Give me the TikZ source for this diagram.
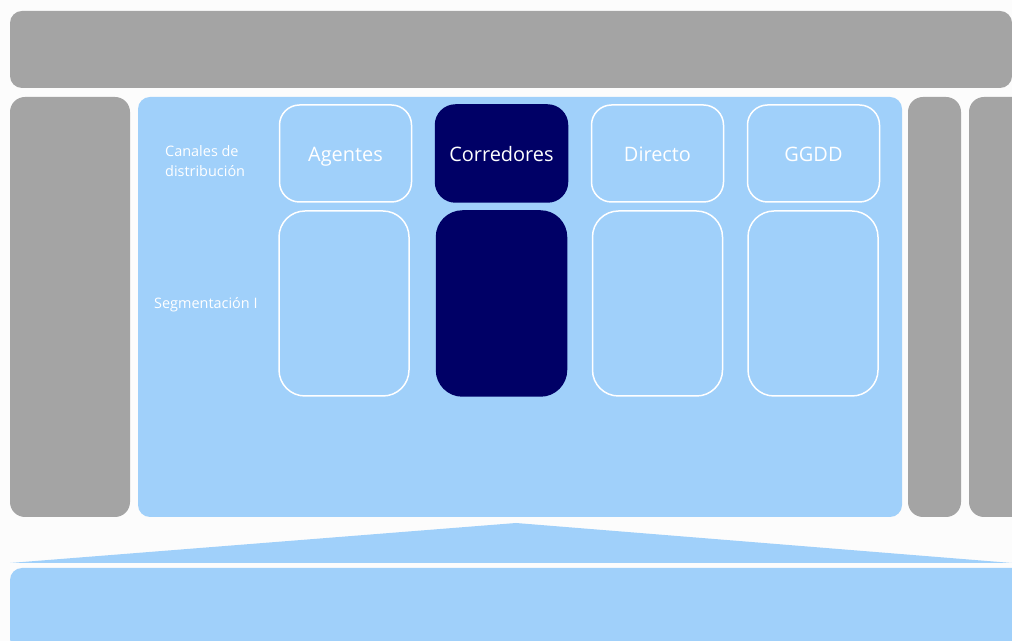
\documentclass[tikz,border=0pt]{standalone}
\usepackage{fontspec}
\setmainfont{Open Sans}
\definecolor{bargray}{HTML}{A4A4A4}
\definecolor{panelblue}{HTML}{A0D0FA}
\definecolor{navy}{HTML}{000066}
\definecolor{paper}{HTML}{FCFCFC}
\begin{document}
\begin{tikzpicture}[line join=bevel,
  bar/.style={fill=bargray,rounded corners=12bp,inner sep=0pt},
  card/.style={draw=white,line width=1.5bp,fill=panelblue,rounded corners=20bp,
    minimum width=132bp,minimum height=97bp,inner sep=0pt,text=white,
    text height=17bp,text depth=0bp,font=\fontsize{20}{24}\selectfont},
  seg/.style={card,rounded corners=26bp,minimum width=130bp,minimum height=185bp},
  chosen/.style={fill=navy,draw=navy},
  caption/.style={text=white,font=\fontsize{14.5}{20}\selectfont,inner sep=0pt,
    anchor=west,align=left},]
%%
\useasboundingbox (0bp,0bp) rectangle (1012bp,641bp);
\clip (0bp,0bp) rectangle (1012bp,641bp);
\fill [paper] (0bp,0bp) rectangle (1012bp,641bp);
%
\node (top) at (511bp,591.5bp) [bar,minimum width=1002bp,minimum height=77bp] {};
  \node (left) at (70bp,334bp) [bar,rounded corners=15bp,minimum width=120bp,minimum height=420bp] {};
  \node (panel) at (520bp,334bp) [bar,fill=panelblue,minimum width=764bp,minimum height=420bp] {};
  \node (right) at (934.5bp,334bp) [bar,rounded corners=15bp,minimum width=53bp,minimum height=420bp] {};
  \node (far) at (1000bp,334bp) [bar,rounded corners=15bp,minimum width=62bp,minimum height=420bp] {};
  \node (base) at (520bp,31.5bp) [bar,fill=panelblue,minimum width=1020bp,minimum height=83bp] {};
  \fill [panelblue] (10bp,78bp) -- (516bp,118bp) -- (1012bp,78bp) -- cycle;
%
\node (canales) at (165bp,480bp) [caption] {Canales de\\distribución};
  \node (segm) at (154bp,336bp) [caption] {Segmentación I};
%
\node (agentes) at (345.5bp,487.5bp) [card] {Agentes};
  \node (corredores) at (501.5bp,487.5bp) [card,chosen] {Corredores};
  \node (directo) at (657.5bp,487.5bp) [card] {Directo};
  \node (ggdd) at (813.5bp,487.5bp) [card] {GGDD};
  \node (segagentes) at (344bp,337.5bp) [seg] {};
  \node (segcorredores) at (501.5bp,337.5bp) [seg,chosen] {};
  \node (segdirecto) at (657.5bp,337.5bp) [seg] {};
  \node (segggdd) at (813bp,337.5bp) [seg] {};
%
\end{tikzpicture}
\end{document}
